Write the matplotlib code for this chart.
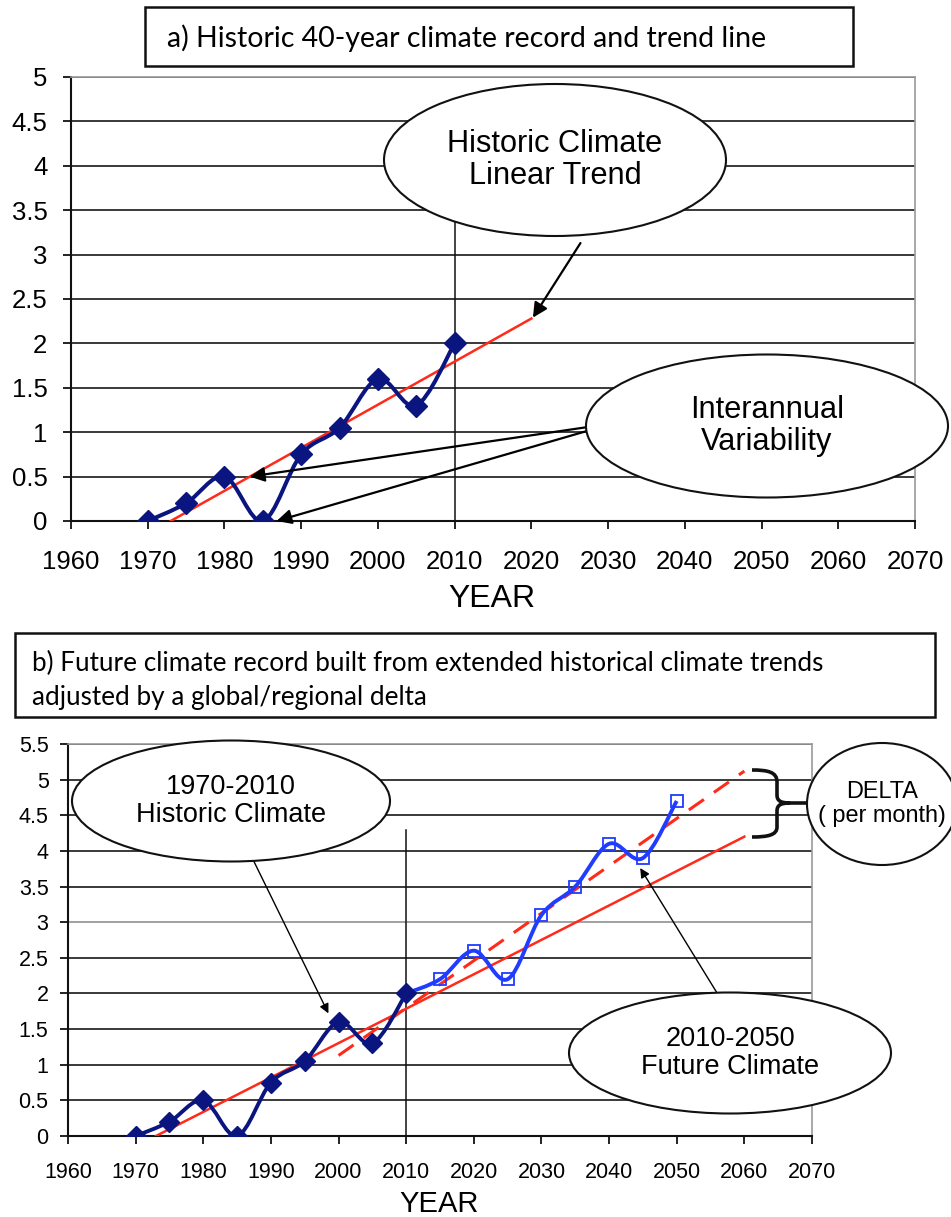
import numpy as np
import matplotlib
matplotlib.use("Agg")
import matplotlib.pyplot as plt
from matplotlib import font_manager
from matplotlib.path import Path
from matplotlib.patches import PathPatch, Ellipse, Rectangle

plt.rcParams['font.family'] = ['Liberation Sans', 'DejaVu Sans']

# data
hist_years = [1970, 1975, 1980, 1985, 1990, 1995, 2000, 2005, 2010]
hist_vals = [0.0, 0.2, 0.5, 0.0, 0.75, 1.05, 1.6, 1.3, 2.0]
fut_years = [2010, 2015, 2020, 2025, 2030, 2035, 2040, 2045, 2050]
fut_vals = [2.0, 2.2, 2.6, 2.2, 3.1, 3.5, 4.1, 3.9, 4.7]

trend_a_x = [1973, 2020]
trend_a_y = [0.0, 2.28]
trend_b_x = [1973, 2060]
trend_b_y = [0.0, 4.2]
delta_x = [2000, 2060]
delta_y = [1.13, 5.12]

x_ticks = [1960, 1970, 1980, 1990, 2000, 2010, 2020, 2030, 2040, 2050, 2060, 2070]
y_ticks_a = [0, 0.5, 1, 1.5, 2, 2.5, 3, 3.5, 4, 4.5, 5]
y_labels_a = ['0', '0.5', '1', '1.5', '2', '2.5', '3', '3.5', '4', '4.5', '5']
y_ticks_b = [0, 0.5, 1, 1.5, 2, 2.5, 3, 3.5, 4, 4.5, 5, 5.5]
y_labels_b = ['0', '0.5', '1', '1.5', '2', '2.5', '3', '3.5', '4', '4.5', '5', '5.5']

NAVY = '#0b1580'
BLUE = '#1f3cff'
RED = '#ff2a1a'
GRID = '#2a2a2a'

# callout text is arial narrow in the original
installed = {f.name for f in font_manager.fontManager.ttflist}
if 'Liberation Sans Narrow' in installed:
    CALLOUT_FONT, k = 'Liberation Sans Narrow', 1.0
else:
    CALLOUT_FONT, k = 'Liberation Sans', 0.87


def smooth_path(xs, ys):
    # excel-style smoothed line through the points
    pts = np.column_stack([xs, ys]).astype(float)
    n = len(pts)
    verts = [pts[0]]
    codes = [Path.MOVETO]
    for i in range(n - 1):
        p0 = pts[max(i - 1, 0)]
        p1 = pts[i]
        p2 = pts[i + 1]
        p3 = pts[min(i + 2, n - 1)]
        verts += [p1 + (p2 - p0) / 6, p2 - (p3 - p1) / 6, p2]
        codes += [Path.CURVE4] * 3
    return Path(verts, codes)


def style_axes(ax, yticks, ylabels, ymax, fs, xpad, ypad):
    ax.set_xlim(1960, 2070)
    ax.set_ylim(0, ymax)
    ax.set_xticks(x_ticks)
    ax.set_xticklabels([str(t) for t in x_ticks], fontsize=fs)
    ax.set_yticks(yticks)
    ax.set_yticklabels(ylabels, fontsize=fs)
    ax.tick_params(direction='out', length=6, width=1.3, color='#111')
    ax.tick_params(axis='x', pad=xpad)
    ax.tick_params(axis='y', pad=ypad)
    ax.yaxis.grid(True, color=GRID, lw=1.3)
    ax.set_axisbelow(True)
    for s in ['top', 'right']:
        ax.spines[s].set_color('#9a9a9a')
        ax.spines[s].set_linewidth(1.2)
    for s in ['left', 'bottom']:
        ax.spines[s].set_color('#111')
        ax.spines[s].set_linewidth(1.5)


fig = plt.figure(figsize=(9.51, 12.17), dpi=100)

# ---------- panel a ----------
ax1 = fig.add_axes([71 / 951, 1 - 521 / 1217, 844 / 951, 444 / 1217])
style_axes(ax1, y_ticks_a, y_labels_a, 5, 18.5, 15, 11)
ax1.plot([2010, 2010], [0, 4], color='#111', lw=1.1, zorder=2)
ax1.plot(trend_a_x, trend_a_y, color=RED, lw=1.8, zorder=3)
ax1.add_patch(PathPatch(smooth_path(hist_years, hist_vals), fill=False,
                        edgecolor=NAVY, lw=2.9, zorder=4))
ax1.plot(hist_years, hist_vals, ls='none', marker='D', ms=11.5, color=NAVY, zorder=5)

arr = dict(arrowstyle='-|>', color='black', lw=1.6, mutation_scale=22, shrinkA=0, shrinkB=0)
ax1.annotate('', xy=(2020.2, 2.29), xytext=(2026.4, 3.13), arrowprops=arr, zorder=6)
ax1.annotate('', xy=(1983.3, 0.5), xytext=(2027.5, 1.06), arrowprops=arr, zorder=6)
ax1.annotate('', xy=(1986.8, 0.0), xytext=(2027.5, 1.02), arrowprops=arr, zorder=6)

# ---------- panel b ----------
ax2 = fig.add_axes([68 / 951, 1 - 1136 / 1217, 744 / 951, 392 / 1217])
style_axes(ax2, y_ticks_b, y_labels_b, 5.5, 15.5, 13, 8)
ax2.get_ygridlines()[6].set_color('#9a9a9a')
ax2.plot([2010, 2010], [0, 4.3], color='#111', lw=1.1, zorder=2)
ax2.plot(trend_b_x, trend_b_y, color=RED, lw=1.8, zorder=3)
ax2.plot(delta_x, delta_y, color=RED, lw=2.2, ls=(0, (6, 4)), zorder=3)
ax2.add_patch(PathPatch(smooth_path(fut_years, fut_vals), fill=False,
                        edgecolor=BLUE, lw=2.8, zorder=4))
ax2.plot(fut_years[1:], fut_vals[1:], ls='none', marker='s', ms=8, mfc='none',
         mec=BLUE, mew=1.3, zorder=5)
ax2.add_patch(PathPatch(smooth_path(hist_years, hist_vals), fill=False,
                        edgecolor=NAVY, lw=2.8, zorder=4))
ax2.plot(hist_years, hist_vals, ls='none', marker='D', ms=10, color=NAVY, zorder=5)

thin = dict(arrowstyle='-|>', color='black', lw=1.0, mutation_scale=14, shrinkA=0, shrinkB=0)
ax2.annotate('', xy=(1998.5, 1.72), xytext=(1987.5, 3.85), arrowprops=thin, zorder=6)
ax2.annotate('', xy=(2044.6, 3.76), xytext=(2056.2, 1.97), arrowprops=thin, zorder=6)

# ---------- overlay: boxes, callouts ----------
ov = fig.add_axes([0, 0, 1, 1], zorder=10)
ov.set_xlim(0, 951)
ov.set_ylim(1217, 0)
ov.axis('off')

ov.add_patch(Rectangle((145, 7), 708, 59, fill=False, ec='#111', lw=1.8))
ov.text(167, 38, 'a) Historic 40-year climate record and trend line',
        fontsize=20.5, family=['Lato', 'DejaVu Sans'], va='center', ha='left')

ov.add_patch(Rectangle((15, 633), 920, 84, fill=False, ec='#111', lw=1.8))
ov.text(32, 663, 'b) Future climate record built from extended historical climate trends',
        fontsize=18.8, family=['Lato', 'DejaVu Sans'], va='center', ha='left')
ov.text(32, 697, 'adjusted by a global/regional delta',
        fontsize=18.8, family=['Lato', 'DejaVu Sans'], va='center', ha='left')

callouts = [
    ((555, 160), 342, 152, 'Historic Climate\nLinear Trend', 25.5),
    ((767, 426), 362, 143, 'Interannual\nVariability', 25.5),
    ((231, 801), 318, 121, '1970-2010\nHistoric Climate', 22.5),
    ((730, 1053), 322, 121, '2010-2050\nFuture Climate', 22.5),
    ((882, 804), 150, 122, 'DELTA\n( per month)', 19.5),
]
for (cx, cy), w, h, label, fs in callouts:
    ov.add_patch(Ellipse((cx, cy), w, h, facecolor='white', edgecolor='#111', lw=1.5))
    ov.text(cx, cy, label, ha='center', va='center', fontsize=fs * k,
            family=[CALLOUT_FONT, 'DejaVu Sans'], linespacing=1.1)

# curly brace pointing at the DELTA bubble
brace = Path(
    [(752, 770), (768, 770), (777, 772), (777, 782), (777, 795), (777, 801), (781, 803), (790, 803),
     (781, 803), (777, 805), (777, 811), (777, 827), (777, 835), (768, 837), (752, 837),
     (790, 803), (808, 803)],
    [Path.MOVETO, Path.CURVE4, Path.CURVE4, Path.CURVE4, Path.LINETO, Path.CURVE4, Path.CURVE4, Path.CURVE4,
     Path.CURVE4, Path.CURVE4, Path.CURVE4, Path.LINETO, Path.CURVE4, Path.CURVE4, Path.CURVE4,
     Path.MOVETO, Path.LINETO])
ov.add_patch(PathPatch(brace, fill=False, ec='#111', lw=2.6))

fig.text(492 / 951, 1 - 599 / 1217, 'YEAR', ha='center', va='center', fontsize=23)
fig.text(439 / 951, 1 - 1204 / 1217, 'YEAR', ha='center', va='center', fontsize=21)

fig.savefig('out.png', dpi=100)
